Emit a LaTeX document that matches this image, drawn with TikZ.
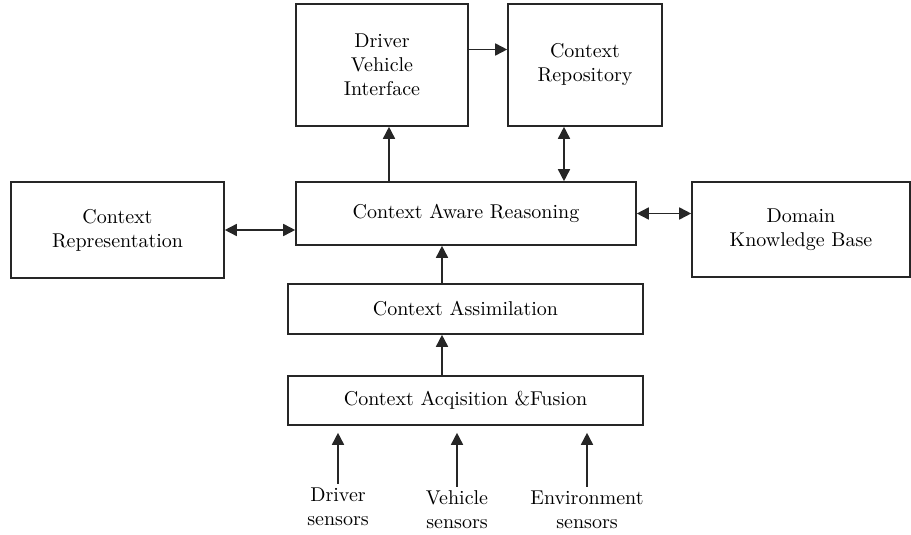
\documentclass[tikz,border=0pt]{standalone}
\usetikzlibrary{arrows.meta, calc}
\tikzstyle{block} = [rectangle, draw=black!85, thick, text centered, align=center, inner sep=2pt]
\tikzstyle{sensor} = [text centered, align=center, inner sep=2pt]
\tikzstyle{arrow} = [thick, draw=black!85, -{Triangle[length=6pt, width=6pt]}]
\tikzstyle{darrow} = [thick, draw=black!85, {Triangle[length=6pt, width=6pt]}-{Triangle[length=6pt, width=6pt]}]

\begin{document}
\begin{tikzpicture}[x=0.5pt, y=-0.5pt]
\useasboundingbox (0,0) rectangle (911,535);

\node (dvi) [block, minimum width=86pt, minimum height=61pt] at (382,65) {Driver\\ Vehicle\\ Interface};
\node (repo) [block, minimum width=77pt, minimum height=61pt] at (585,65) {Context\\ Repository};

\node (rep) [block, minimum width=106.5pt, minimum height=48pt] at (117.5,230) {Context\\ Representation};
\node (car) [block, minimum width=170pt, minimum height=31.5pt] at (466,213.5) {Context Aware Reasoning};
\node (dkb) [block, minimum width=109pt, minimum height=47.5pt] at (801,229.5) {Domain\\ Knowledge Base};

\node (ca) [block, minimum width=177.5pt, minimum height=25pt] at (465.5,309) {Context Assimilation};
\node (caf) [block, minimum width=177.5pt, minimum height=24.5pt] at (465.5,400.5) {Context Acqisition \&Fusion};

\node (drv) [sensor] at (338,507) {Driver\\ sensors};
\node (veh) [sensor] at (457,510) {Vehicle\\ sensors};
\node (env) [sensor] at (587,510) {Environment\\ sensors};

\draw [arrow] ([yshift=7.75pt]dvi.east) -- ([yshift=7.75pt]dvi.east -| repo.west);
\draw [arrow] ([xshift=3.5pt]dvi.south |- car.north) -- ([xshift=3.5pt]dvi.south);
\draw [darrow] ([xshift=-10.5pt]repo.south |- car.north) -- ([xshift=-10.5pt]repo.south);

\draw [darrow] (rep.east) -- (rep.east -| car.west);
\draw [darrow] (car.east) -- (car.east -| dkb.west);

\draw [arrow] ([xshift=-11.75pt]ca.north) -- ([xshift=-11.75pt]ca.north |- car.south);
\draw [arrow] ([xshift=-11.75pt]caf.north) -- ([xshift=-11.75pt]caf.north |- ca.south);

\draw [arrow] (drv.north) -- ([yshift=-3.5pt]drv.north |- caf.south);
\draw [arrow] (veh.north) -- ([yshift=-3.5pt]veh.north |- caf.south);
\draw [arrow] (env.north) -- ([yshift=-3.5pt]env.north |- caf.south);

\end{tikzpicture}
\end{document}
